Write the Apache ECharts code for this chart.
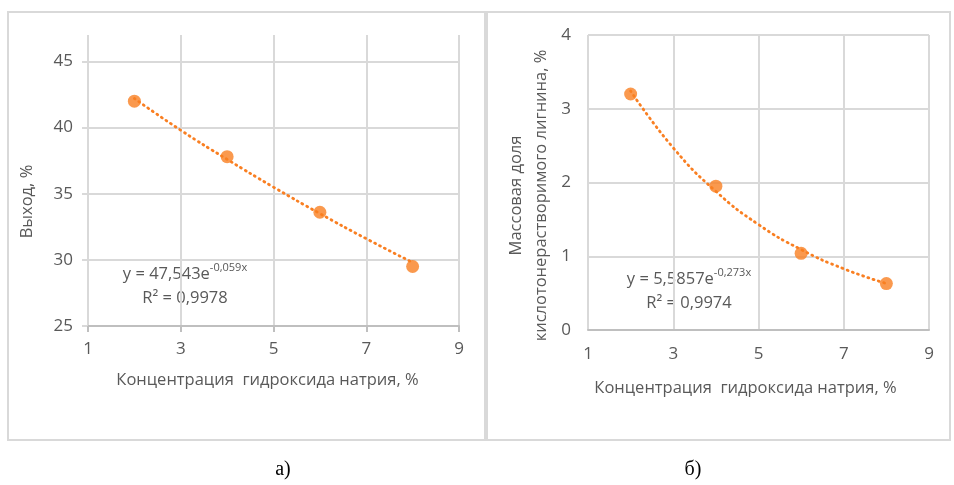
<!DOCTYPE html>
<html>
<head>
<meta charset="utf-8">
<script src="https://cdn.jsdelivr.net/npm/echarts@6/dist/echarts.min.js"></script>
<style>
  html, body { margin: 0; padding: 0; background: #fff; }
  #chart { width: 954px; height: 485px; }
</style>
</head>
<body>
<div id="chart"></div>
<script>
// NaOH concentration, %
const naoh = [2, 4, 6, 8];
// a) yield, %
const yieldPct = [42.0, 37.8, 33.6, 29.5];
// b) acid-insoluble lignin mass fraction, %
const ligninPct = [3.2, 1.95, 1.04, 0.63];

// trendline points
const trendX = [2, 3, 4, 5, 6, 7, 8];
const yieldTrend = [42.2, 39.8, 37.6, 35.5, 33.5, 31.6, 29.8];
const ligninTrend = [3.24, 2.47, 1.88, 1.43, 1.09, 0.83, 0.63];

const xTicks = [1, 3, 5, 7, 9];
const yieldTicks = [25, 30, 35, 40, 45];
const ligninTicks = [0, 1, 2, 3, 4];

const xName = 'Концентрация  гидроксида натрия, %';

const orange = '#F97F22';
const grey = '#595959';
const gridGrey = '#d9d9d9';
const font = 'Open Sans';

const chart = echarts.init(document.getElementById('chart'));

const pairs = (xs, ys) => xs.map((x, i) => [x, ys[i]]);

const xAxisBase = (withTicks, margin, gap, shift) => ({
  type: 'value',
  min: xTicks[0],
  max: xTicks[xTicks.length - 1],
  interval: 2,
  name: xName,
  nameLocation: 'middle',
  nameGap: gap,
  nameTextStyle: { color: grey, fontFamily: font, fontSize: 16.5, padding: [0, shift, 0, 0] },
  axisLine: { show: true, lineStyle: { color: '#bfbfbf', width: 2 } },
  axisTick: { show: withTicks, length: 6, lineStyle: { color: '#bfbfbf', width: 2 } },
  axisLabel: { color: grey, fontFamily: font, fontSize: 17, margin: margin },
  splitLine: { show: true, lineStyle: { color: gridGrey, width: 2 } }
});

const eqText = (x, y, base, sup, r2) => ({
  type: 'text',
  x: x,
  y: y,
  style: {
    text: '{a|' + base + '}{s|' + sup + '}\n{a|R² = ' + r2 + '}',
    align: 'center',
    verticalAlign: 'middle',
    fill: grey,
    rich: {
      a: { fontFamily: font, fontSize: 16.5, lineHeight: 24, fill: grey },
      s: { fontFamily: font, fontSize: 11, lineHeight: 24, verticalAlign: 'top', padding: [0, 0, 8, 0], fill: grey }
    }
  }
});

const option = {
  animation: false,
  backgroundColor: '#fff',
  grid: [
    { left: 88, right: 495, top: 35, bottom: 159 },
    { left: 588, right: 25, top: 35, bottom: 155 }
  ],
  xAxis: [
    Object.assign(xAxisBase(true, 15, 46, 12), { gridIndex: 0 }),
    Object.assign(xAxisBase(false, 16, 50, 26), { gridIndex: 1 })
  ],
  yAxis: [
    {
      gridIndex: 0,
      type: 'value',
      min: yieldTicks[0],
      max: 47,
      interval: 5,
      name: 'Выход, %',
      nameLocation: 'middle',
      nameGap: 52,
      nameTextStyle: { color: grey, fontFamily: font, fontSize: 16.5, padding: [0, 42, 0, 0] },
      axisLine: { show: false },
      axisTick: { show: true, length: 6, lineStyle: { color: gridGrey, width: 2 } },
      axisLabel: { color: grey, fontFamily: font, fontSize: 17, margin: 15, showMaxLabel: false },
      splitLine: { show: true, showMaxLine: false, lineStyle: { color: gridGrey, width: 2 } }
    },
    {
      gridIndex: 1,
      type: 'value',
      min: ligninTicks[0],
      max: ligninTicks[ligninTicks.length - 1],
      interval: 1,
      name: 'Массовая доля\nкислотонерастворимого лигнина, %',
      nameLocation: 'middle',
      nameGap: 34,
      nameTextStyle: { color: grey, fontFamily: font, fontSize: 16.5, lineHeight: 25, padding: [0, 26, 0, 0] },
      axisLine: { show: false },
      axisTick: { show: false },
      axisLabel: { color: grey, fontFamily: font, fontSize: 17, margin: 17 },
      splitLine: { show: true, lineStyle: { color: gridGrey, width: 2 } }
    }
  ],
  series: [
    {
      type: 'line', xAxisIndex: 0, yAxisIndex: 0,
      data: pairs(trendX, yieldTrend),
      smooth: true, symbol: 'none',
      lineStyle: { color: orange, width: 2.8, type: [1, 4.5], cap: 'round' },
      z: 3
    },
    {
      type: 'scatter', xAxisIndex: 0, yAxisIndex: 0,
      data: pairs(naoh, yieldPct),
      symbolSize: 13,
      itemStyle: { color: orange },
      z: 4
    },
    {
      type: 'line', xAxisIndex: 1, yAxisIndex: 1,
      data: pairs(trendX, ligninTrend),
      smooth: true, symbol: 'none',
      lineStyle: { color: orange, width: 2.8, type: [1, 4.5], cap: 'round' },
      z: 3
    },
    {
      type: 'scatter', xAxisIndex: 1, yAxisIndex: 1,
      data: pairs(naoh, ligninPct),
      symbolSize: 13,
      itemStyle: { color: orange },
      z: 4
    }
  ],
  graphic: [
    { type: 'rect', shape: { x: 8, y: 12, width: 477, height: 428 }, style: { fill: null, stroke: gridGrey, lineWidth: 2 }, z: -1 },
    { type: 'rect', shape: { x: 487, y: 12, width: 463, height: 428 }, style: { fill: null, stroke: gridGrey, lineWidth: 2 }, z: -1 },
    eqText(185, 286, 'y = 47,543e', '-0,059x', '0,9978'),
    eqText(689, 291, 'y = 5,5857e', '-0,273x', '0,9974'),
    { type: 'text', x: 283, y: 470, style: { text: 'а)', align: 'center', verticalAlign: 'middle', fill: '#000', font: '20px "Liberation Serif"' } },
    { type: 'text', x: 693, y: 470, style: { text: 'б)', align: 'center', verticalAlign: 'middle', fill: '#000', font: '20px "Liberation Serif"' } }
  ]
};

chart.setOption(option);
</script>
</body>
</html>
